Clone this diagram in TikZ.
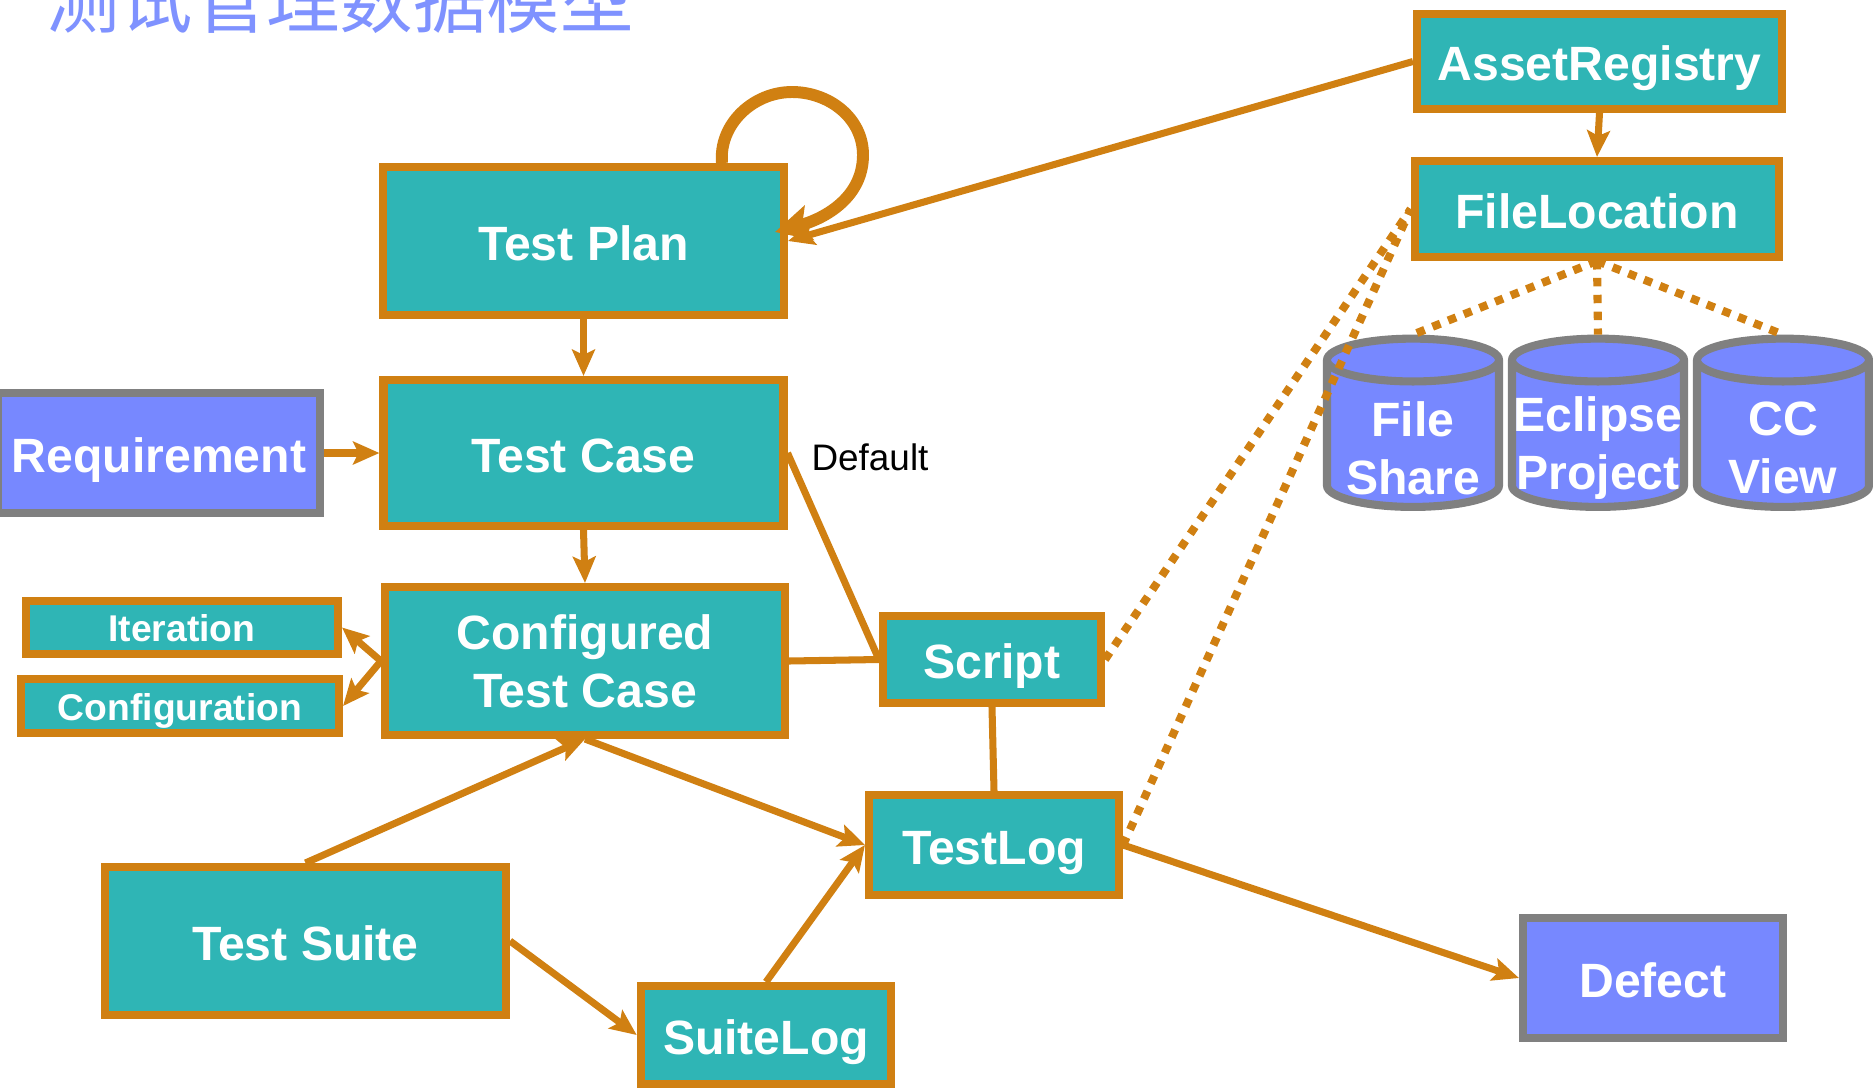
\documentclass[tikz,border=0pt]{standalone}
\usepackage{fontspec}
\setmainfont{Liberation Sans}
\newfontfamily\cjkfont{Noto Sans CJK SC}
\usetikzlibrary{shapes.geometric,arrows.meta}

\definecolor{boxteal}{HTML}{2FB5B5}
\definecolor{boxblue}{HTML}{7788FF}
\definecolor{linkorange}{HTML}{D08012}
\definecolor{rimgray}{HTML}{808080}
\definecolor{titleblue}{HTML}{7F92FF}

\tikzset{
  tealbox/.style={draw=linkorange,fill=boxteal,line width=2.3pt,text=white,align=center,
    font=\fontsize{13.7}{16.4}\selectfont\bfseries},
  oneline/.style={text height=11pt,text depth=0pt},
  smallbox/.style={tealbox,text height=8pt,text depth=0pt,font=\fontsize{10.6}{12}\selectfont\bfseries},
  bluebox/.style={tealbox,draw=rimgray,fill=boxblue},
  store/.style={draw=rimgray,fill=boxblue,line width=2.3pt,shape=cylinder,shape border rotate=90,aspect=0.42,inner sep=0pt,
    text width=1.02cm,text height=0.5cm,text depth=0.5cm,minimum width=1.72cm},
  storetext/.style={text=white,align=center,font=\fontsize{13.7}{16.4}\selectfont\bfseries},
  plain/.style={draw=linkorange,line width=2pt},
  arrowlink/.style={plain,-{Stealth[length=7.5pt,width=6.5pt,inset=1.5pt]}},
  dotlink/.style={draw=linkorange,line width=2.3pt,dash pattern=on 2.4pt off 2.4pt}
}

\begin{document}
\begin{tikzpicture}

\useasboundingbox (0,0) rectangle (18.73,-10.88);

\node[text=titleblue,font=\cjkfont\fontsize{20.9}{24}\selectfont,anchor=base] (title) at (3.4,-0.27) {测试管理数据模型};

\node[tealbox,oneline,minimum width=4.01cm,minimum height=1.48cm] (plan) at (5.835,-2.41) {Test Plan};
\node[tealbox,oneline,minimum width=4.0cm,minimum height=1.46cm] (tcase) at (5.835,-4.53) {Test Case};
\node[tealbox,minimum width=4.0cm,minimum height=1.48cm] (cfgcase) at (5.85,-6.61) {Configured\\Test Case};
\node[tealbox,oneline,minimum width=4.01cm,minimum height=1.48cm] (suite) at (3.055,-9.41) {Test Suite};
\node[tealbox,oneline,minimum width=2.505cm,minimum height=0.98cm] (suitelog) at (7.66,-10.35) {SuiteLog};
\node[tealbox,oneline,minimum width=2.5cm,minimum height=1.0cm] (testlog) at (9.94,-8.45) {TestLog};
\node[tealbox,oneline,minimum width=2.18cm,minimum height=0.87cm] (script) at (9.92,-6.595) {Script};
\node[tealbox,oneline,minimum width=3.65cm,minimum height=0.95cm] (asset) at (15.995,-0.615) {AssetRegistry};
\node[tealbox,oneline,minimum width=3.645cm,minimum height=0.96cm] (fileloc) at (15.97,-2.09) {FileLocation};

\node[smallbox,minimum width=3.12cm,minimum height=0.53cm] (iter) at (1.82,-6.275) {Iteration};
\node[smallbox,minimum width=3.18cm,minimum height=0.54cm] (config) at (1.80,-7.06) {Configuration};

\node[bluebox,oneline,minimum width=3.22cm,minimum height=1.2cm] (req) at (1.59,-4.53) {Requirement};
\node[bluebox,oneline,minimum width=2.6cm,minimum height=1.2cm] (defect) at (16.53,-9.78) {Defect};

\node[store] (share) at (14.13,-4.355) {};
\node[store] (eclipse) at (15.98,-4.355) {};
\node[store] (ccview) at (17.83,-4.355) {};
\node[storetext] (sharetext) at (14.13,-4.48) {File\\Share};
\node[storetext] (eclipsetext) at (15.98,-4.48) {Eclipse\\Project};
\node[storetext] (ccviewtext) at (17.83,-4.48) {CC\\View};

\node[font=\fontsize{10.5}{12}\selectfont,text=black] (default) at (8.7,-4.57) {Default};

\coordinate (loopstart) at (7.22,-1.63);
\coordinate (looptop) at (7.92,-0.92);
\coordinate (loopright) at (8.63,-1.55);
\coordinate (looptip) at (7.75,-2.32);

\draw[draw=linkorange,line width=3.4pt,-{Stealth[length=10pt,width=10pt,inset=2pt]}] (loopstart) to[out=95,in=180] (looptop) to[out=0,in=90] (loopright) to[out=-90,in=15] (looptip);

\draw[arrowlink] (asset.west) -- (plan.east);
\draw[arrowlink] (asset.south) -- (fileloc.north);
\draw[arrowlink] (plan.south) -- (tcase.north);
\draw[arrowlink] (req.east) -- (tcase.west);
\draw[arrowlink] (tcase.south) -- (cfgcase.north);
\draw[arrowlink] (cfgcase.west) -- (iter.east);
\draw[arrowlink] (cfgcase.west) -- (config.east);
\draw[arrowlink] (suite.north) -- (cfgcase.south);
\draw[arrowlink] (cfgcase.south) -- (testlog.west);
\draw[arrowlink] (suite.east) -- (suitelog.west);
\draw[arrowlink] (suitelog.north) -- (testlog.west);
\draw[arrowlink] (testlog.east) -- (defect.west);

\draw[plain] (tcase.east) -- (script.west);
\draw[plain] (cfgcase.east) -- (script.west);
\draw[plain] (script.south) -- (testlog.north);

\draw[dotlink] (script.east) -- (fileloc.west);
\draw[dotlink] (testlog.east) -- (fileloc.west);
\draw[dotlink] (fileloc.south) -- (share.north);
\draw[dotlink] (fileloc.south) -- (eclipse.north);
\draw[dotlink] (fileloc.south) -- (ccview.north);

\end{tikzpicture}
\end{document}
